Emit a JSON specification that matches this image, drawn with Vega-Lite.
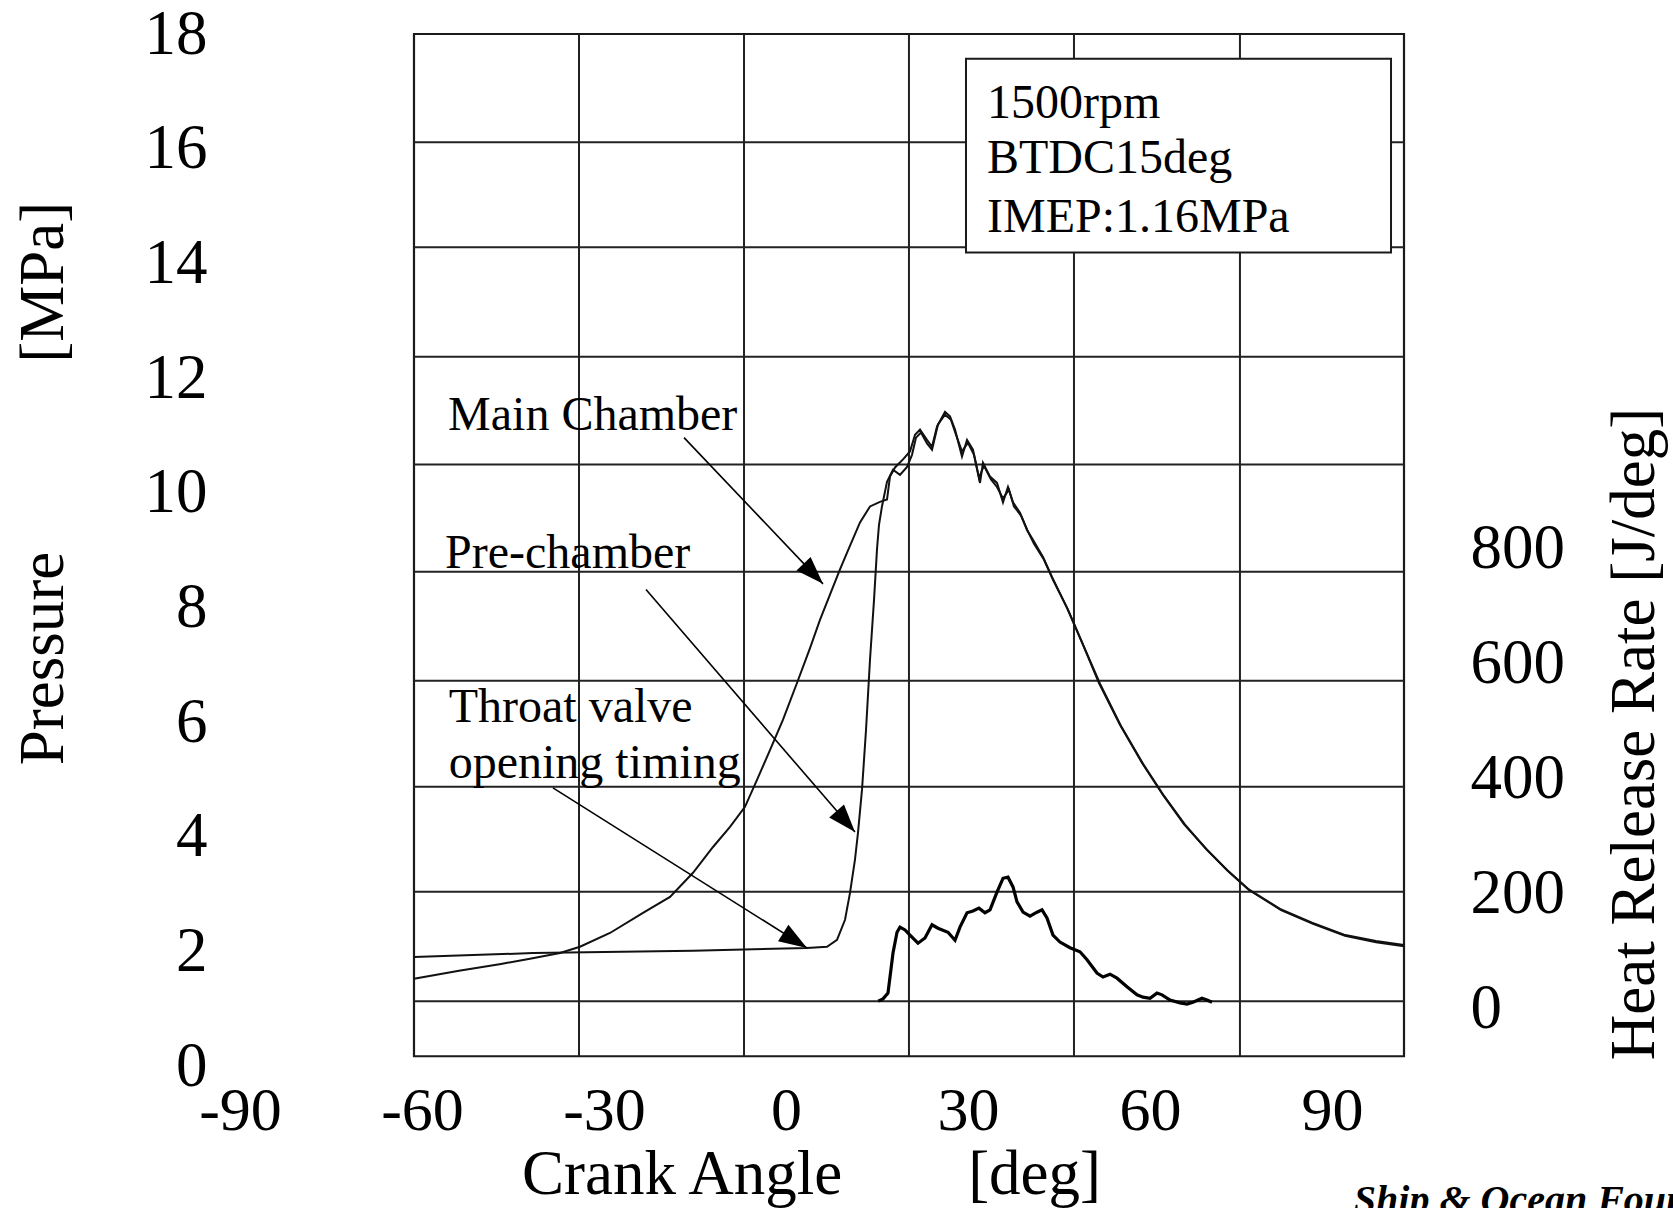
{
  "$schema": "https://vega.github.io/schema/vega-lite/v6.json",
  "autosize": {"type": "none"},
  "width": 1164,
  "height": 1032,
  "padding": {"left": 240, "top": 34, "right": 269, "bottom": 142},
  "background": "white",
  "config": {
    "view": {"stroke": null},
    "font": "Liberation Serif",
    "axis": {"labelFont": "Liberation Serif", "titleFont": "Liberation Serif", "labelColor": "black", "titleColor": "black", "titleFontWeight": "normal", "ticks": false, "domain": false, "grid": false, "labelFlush": false, "labelOverlap": false, "labelBound": false}
  },
  "datasets": {
    "grid": [
      {"x0": -34.12, "x1": -34.12, "y0": 0.17, "y1": 18},
      {"x0": -6.92, "x1": -6.92, "y0": 0.17, "y1": 18},
      {"x0": 20.27, "x1": 20.27, "y0": 0.17, "y1": 18},
      {"x0": 47.47, "x1": 47.47, "y0": 0.17, "y1": 18},
      {"x0": 74.83, "x1": 74.83, "y0": 0.17, "y1": 18},
      {"x0": -61.32, "x1": 101.87, "y0": 16.11, "y1": 16.11},
      {"x0": -61.32, "x1": 101.87, "y0": 14.28, "y1": 14.28},
      {"x0": -61.32, "x1": 101.87, "y0": 12.37, "y1": 12.37},
      {"x0": -61.32, "x1": 101.87, "y0": 10.49, "y1": 10.49},
      {"x0": -61.32, "x1": 101.87, "y0": 8.62, "y1": 8.62},
      {"x0": -61.32, "x1": 101.87, "y0": 6.72, "y1": 6.72},
      {"x0": -61.32, "x1": 101.87, "y0": 4.87, "y1": 4.87},
      {"x0": -61.32, "x1": 101.87, "y0": 3.04, "y1": 3.04},
      {"x0": -61.32, "x1": 101.87, "y0": 1.13, "y1": 1.13}
    ],
    "frame": [{"x0": -61.32, "x1": 101.87, "y0": 0.17, "y1": 18}],
    "box": [{"x0": 29.67, "x1": 99.73, "y0": 14.19, "y1": 17.57}],
    "boxtext": [
      {"t": "1500rpm", "deg": 33.13, "mpa": 16.54},
      {"t": "BTDC15deg", "deg": 33.13, "mpa": 15.58},
      {"t": "IMEP:1.16MPa", "deg": 33.13, "mpa": 14.55}
    ],
    "notes": [
      {"t": "Main Chamber", "deg": -55.7, "mpa": 11.10},
      {"t": "Pre-chamber", "deg": -56.2, "mpa": 8.69},
      {"t": "Throat valve", "deg": -55.6, "mpa": 6.00},
      {"t": "opening timing", "deg": -55.6, "mpa": 5.03}
    ],
    "arrows": [
      {"x0": -16.81, "y0": 10.96, "x1": 6.10, "y1": 8.41, "dir": 136},
      {"x0": -23.08, "y0": 8.31, "x1": 11.37, "y1": 4.08, "dir": 139},
      {"x0": -38.41, "y0": 4.85, "x1": 3.46, "y1": 2.06, "dir": 122}
    ],
    "credit": [{"t": "Ship & Ocean Foundation", "deg": 93.6, "mpa": -2.57}],
    "pressure": [
      {"s": "Main Chamber", "deg": -61.32, "mpa": 1.52},
      {"s": "Main Chamber", "deg": -53.90, "mpa": 1.66},
      {"s": "Main Chamber", "deg": -46.98, "mpa": 1.78},
      {"s": "Main Chamber", "deg": -42.20, "mpa": 1.87},
      {"s": "Main Chamber", "deg": -37.25, "mpa": 1.97},
      {"s": "Main Chamber", "deg": -33.96, "mpa": 2.08},
      {"s": "Main Chamber", "deg": -29.01, "mpa": 2.32},
      {"s": "Main Chamber", "deg": -23.57, "mpa": 2.67},
      {"s": "Main Chamber", "deg": -19.12, "mpa": 2.95},
      {"s": "Main Chamber", "deg": -15.33, "mpa": 3.37},
      {"s": "Main Chamber", "deg": -12.03, "mpa": 3.82},
      {"s": "Main Chamber", "deg": -9.23, "mpa": 4.17},
      {"s": "Main Chamber", "deg": -6.76, "mpa": 4.52},
      {"s": "Main Chamber", "deg": -4.78, "mpa": 4.99},
      {"s": "Main Chamber", "deg": -2.64, "mpa": 5.51},
      {"s": "Main Chamber", "deg": -0.49, "mpa": 6.04},
      {"s": "Main Chamber", "deg": 1.81, "mpa": 6.68},
      {"s": "Main Chamber", "deg": 3.96, "mpa": 7.29},
      {"s": "Main Chamber", "deg": 5.60, "mpa": 7.78},
      {"s": "Main Chamber", "deg": 7.25, "mpa": 8.22},
      {"s": "Main Chamber", "deg": 8.90, "mpa": 8.66},
      {"s": "Main Chamber", "deg": 10.05, "mpa": 8.95},
      {"s": "Main Chamber", "deg": 12.20, "mpa": 9.48},
      {"s": "Main Chamber", "deg": 13.85, "mpa": 9.76},
      {"s": "Main Chamber", "deg": 15.49, "mpa": 9.84},
      {"s": "Main Chamber", "deg": 16.65, "mpa": 9.88},
      {"s": "Main Chamber", "deg": 17.14, "mpa": 10.28},
      {"s": "Main Chamber", "deg": 17.97, "mpa": 10.44},
      {"s": "Main Chamber", "deg": 19.29, "mpa": 10.58},
      {"s": "Main Chamber", "deg": 20.44, "mpa": 10.72},
      {"s": "Main Chamber", "deg": 21.27, "mpa": 11.01},
      {"s": "Main Chamber", "deg": 22.09, "mpa": 11.10},
      {"s": "Main Chamber", "deg": 23.24, "mpa": 10.92},
      {"s": "Main Chamber", "deg": 24.07, "mpa": 10.80},
      {"s": "Main Chamber", "deg": 24.89, "mpa": 11.15},
      {"s": "Main Chamber", "deg": 26.21, "mpa": 11.41},
      {"s": "Main Chamber", "deg": 27.03, "mpa": 11.33},
      {"s": "Main Chamber", "deg": 27.86, "mpa": 11.10},
      {"s": "Main Chamber", "deg": 29.01, "mpa": 10.63},
      {"s": "Main Chamber", "deg": 29.84, "mpa": 10.92},
      {"s": "Main Chamber", "deg": 30.82, "mpa": 10.75},
      {"s": "Main Chamber", "deg": 31.98, "mpa": 10.17},
      {"s": "Main Chamber", "deg": 32.47, "mpa": 10.52},
      {"s": "Main Chamber", "deg": 33.63, "mpa": 10.28},
      {"s": "Main Chamber", "deg": 34.78, "mpa": 10.17},
      {"s": "Main Chamber", "deg": 35.77, "mpa": 9.83},
      {"s": "Main Chamber", "deg": 36.59, "mpa": 10.10},
      {"s": "Main Chamber", "deg": 37.42, "mpa": 9.83},
      {"s": "Main Chamber", "deg": 38.57, "mpa": 9.65},
      {"s": "Main Chamber", "deg": 39.73, "mpa": 9.35},
      {"s": "Main Chamber", "deg": 40.71, "mpa": 9.18},
      {"s": "Main Chamber", "deg": 42.36, "mpa": 8.88},
      {"s": "Main Chamber", "deg": 43.84, "mpa": 8.53},
      {"s": "Main Chamber", "deg": 46.32, "mpa": 7.99},
      {"s": "Main Chamber", "deg": 48.95, "mpa": 7.35},
      {"s": "Main Chamber", "deg": 51.59, "mpa": 6.68},
      {"s": "Main Chamber", "deg": 55.05, "mpa": 5.95},
      {"s": "Main Chamber", "deg": 58.68, "mpa": 5.29},
      {"s": "Main Chamber", "deg": 62.14, "mpa": 4.73},
      {"s": "Main Chamber", "deg": 65.60, "mpa": 4.22},
      {"s": "Main Chamber", "deg": 69.23, "mpa": 3.79},
      {"s": "Main Chamber", "deg": 72.69, "mpa": 3.42},
      {"s": "Main Chamber", "deg": 76.15, "mpa": 3.09},
      {"s": "Main Chamber", "deg": 81.43, "mpa": 2.74},
      {"s": "Main Chamber", "deg": 86.70, "mpa": 2.50},
      {"s": "Main Chamber", "deg": 91.98, "mpa": 2.29},
      {"s": "Main Chamber", "deg": 97.25, "mpa": 2.18},
      {"s": "Main Chamber", "deg": 101.87, "mpa": 2.11},
      {"s": "Pre-chamber", "deg": -61.32, "mpa": 1.90},
      {"s": "Pre-chamber", "deg": -41.70, "mpa": 1.97},
      {"s": "Pre-chamber", "deg": -15.33, "mpa": 2.01},
      {"s": "Pre-chamber", "deg": 3.46, "mpa": 2.06},
      {"s": "Pre-chamber", "deg": 6.76, "mpa": 2.08},
      {"s": "Pre-chamber", "deg": 8.41, "mpa": 2.20},
      {"s": "Pre-chamber", "deg": 9.73, "mpa": 2.55},
      {"s": "Pre-chamber", "deg": 10.55, "mpa": 3.02},
      {"s": "Pre-chamber", "deg": 11.37, "mpa": 3.60},
      {"s": "Pre-chamber", "deg": 11.87, "mpa": 4.07},
      {"s": "Pre-chamber", "deg": 12.53, "mpa": 4.82},
      {"s": "Pre-chamber", "deg": 13.19, "mpa": 5.86},
      {"s": "Pre-chamber", "deg": 13.85, "mpa": 7.09},
      {"s": "Pre-chamber", "deg": 14.51, "mpa": 8.13},
      {"s": "Pre-chamber", "deg": 15.00, "mpa": 9.01},
      {"s": "Pre-chamber", "deg": 15.33, "mpa": 9.44},
      {"s": "Pre-chamber", "deg": 15.82, "mpa": 9.76},
      {"s": "Pre-chamber", "deg": 16.65, "mpa": 10.19},
      {"s": "Pre-chamber", "deg": 17.64, "mpa": 10.40},
      {"s": "Pre-chamber", "deg": 18.79, "mpa": 10.31},
      {"s": "Pre-chamber", "deg": 19.95, "mpa": 10.45},
      {"s": "Pre-chamber", "deg": 20.77, "mpa": 10.66},
      {"s": "Pre-chamber", "deg": 21.43, "mpa": 10.96},
      {"s": "Pre-chamber", "deg": 22.25, "mpa": 11.05},
      {"s": "Pre-chamber", "deg": 23.24, "mpa": 10.86},
      {"s": "Pre-chamber", "deg": 24.07, "mpa": 10.75},
      {"s": "Pre-chamber", "deg": 25.05, "mpa": 11.19},
      {"s": "Pre-chamber", "deg": 26.21, "mpa": 11.36},
      {"s": "Pre-chamber", "deg": 27.20, "mpa": 11.27},
      {"s": "Pre-chamber", "deg": 28.02, "mpa": 11.01},
      {"s": "Pre-chamber", "deg": 29.01, "mpa": 10.72},
      {"s": "Pre-chamber", "deg": 30.00, "mpa": 10.87},
      {"s": "Pre-chamber", "deg": 30.99, "mpa": 10.66},
      {"s": "Pre-chamber", "deg": 31.81, "mpa": 10.26},
      {"s": "Pre-chamber", "deg": 32.63, "mpa": 10.47},
      {"s": "Pre-chamber", "deg": 33.79, "mpa": 10.23},
      {"s": "Pre-chamber", "deg": 34.78, "mpa": 10.10},
      {"s": "Pre-chamber", "deg": 35.77, "mpa": 9.90},
      {"s": "Pre-chamber", "deg": 36.76, "mpa": 10.05},
      {"s": "Pre-chamber", "deg": 37.58, "mpa": 9.76},
      {"s": "Pre-chamber", "deg": 38.74, "mpa": 9.60},
      {"s": "Pre-chamber", "deg": 39.89, "mpa": 9.32},
      {"s": "Pre-chamber", "deg": 40.88, "mpa": 9.11},
      {"s": "Pre-chamber", "deg": 42.53, "mpa": 8.83},
      {"s": "Pre-chamber", "deg": 44.01, "mpa": 8.48},
      {"s": "Pre-chamber", "deg": 46.48, "mpa": 7.96},
      {"s": "Pre-chamber", "deg": 49.12, "mpa": 7.31},
      {"s": "Pre-chamber", "deg": 51.76, "mpa": 6.67},
      {"s": "Pre-chamber", "deg": 55.22, "mpa": 5.93},
      {"s": "Pre-chamber", "deg": 58.85, "mpa": 5.27},
      {"s": "Pre-chamber", "deg": 62.31, "mpa": 4.71},
      {"s": "Pre-chamber", "deg": 65.77, "mpa": 4.21},
      {"s": "Pre-chamber", "deg": 69.40, "mpa": 3.77},
      {"s": "Pre-chamber", "deg": 72.86, "mpa": 3.40},
      {"s": "Pre-chamber", "deg": 76.32, "mpa": 3.07},
      {"s": "Pre-chamber", "deg": 81.60, "mpa": 2.72},
      {"s": "Pre-chamber", "deg": 86.87, "mpa": 2.48},
      {"s": "Pre-chamber", "deg": 92.14, "mpa": 2.27},
      {"s": "Pre-chamber", "deg": 97.25, "mpa": 2.16},
      {"s": "Pre-chamber", "deg": 101.87, "mpa": 2.09}
    ],
    "hrr": [
      {"deg": 15.2, "hrr": 12}, {"deg": 15.99, "hrr": 16}, {"deg": 16.81, "hrr": 26},
      {"deg": 17.64, "hrr": 96}, {"deg": 18.30, "hrr": 132}, {"deg": 18.79, "hrr": 141},
      {"deg": 19.62, "hrr": 136}, {"deg": 20.44, "hrr": 127}, {"deg": 21.76, "hrr": 113},
      {"deg": 22.91, "hrr": 122}, {"deg": 24.07, "hrr": 145}, {"deg": 25.05, "hrr": 139},
      {"deg": 26.70, "hrr": 132}, {"deg": 27.86, "hrr": 118}, {"deg": 28.68, "hrr": 141},
      {"deg": 29.84, "hrr": 166}, {"deg": 30.82, "hrr": 169}, {"deg": 31.81, "hrr": 174},
      {"deg": 32.80, "hrr": 166}, {"deg": 33.63, "hrr": 171}, {"deg": 34.78, "hrr": 202},
      {"deg": 35.77, "hrr": 226}, {"deg": 36.59, "hrr": 228}, {"deg": 37.42, "hrr": 211},
      {"deg": 38.08, "hrr": 185}, {"deg": 39.07, "hrr": 167}, {"deg": 40.22, "hrr": 160},
      {"deg": 41.37, "hrr": 167}, {"deg": 42.20, "hrr": 171}, {"deg": 43.02, "hrr": 157},
      {"deg": 44.01, "hrr": 127}, {"deg": 45.16, "hrr": 115}, {"deg": 46.81, "hrr": 105},
      {"deg": 48.46, "hrr": 98}, {"deg": 49.62, "hrr": 84}, {"deg": 51.26, "hrr": 61},
      {"deg": 52.25, "hrr": 54}, {"deg": 53.41, "hrr": 59}, {"deg": 54.56, "hrr": 52},
      {"deg": 56.21, "hrr": 37}, {"deg": 57.86, "hrr": 23}, {"deg": 58.85, "hrr": 19},
      {"deg": 60.00, "hrr": 17}, {"deg": 61.15, "hrr": 26}, {"deg": 61.98, "hrr": 23},
      {"deg": 63.30, "hrr": 14}, {"deg": 64.95, "hrr": 9}, {"deg": 66.10, "hrr": 7},
      {"deg": 67.09, "hrr": 10}, {"deg": 68.57, "hrr": 17}, {"deg": 69.40, "hrr": 14},
      {"deg": 70.22, "hrr": 10}
    ]
  },
  "layer": [
    {
      "layer": [
        {
          "data": {"name": "frame"},
          "mark": {"type": "rect", "fill": "white", "fillOpacity": 0, "stroke": "#1a1a1a", "strokeWidth": 2.2},
          "encoding": {
            "x": {"field": "x0", "type": "quantitative", "scale": {"domain": [-90, 101.87], "nice": false, "zero": false},
              "axis": {"values": [-90, -60, -30, 0, 30, 60, 90], "labelExpr": "'' + datum.value", "labelFontSize": 62, "labelPadding": 44, "labelBaseline": "middle",
                "title": "Crank Angle\u00a0\u00a0\u00a0\u00a0\u00a0\u00a0\u00a0\u00a0[deg]", "titleFontSize": 63, "titleX": 571, "titleY": 127, "titleBaseline": "alphabetic", "titleAlign": "center"}},
            "x2": {"field": "x1"},
            "y": {"field": "y0", "type": "quantitative", "scale": {"domain": [0, 18], "nice": false, "zero": false},
              "axis": {"values": [0, 2, 4, 6, 8, 10, 12, 14, 16, 18], "labelExpr": "'' + datum.value", "labelFontSize": 63, "labelPadding": 33, "labelAlign": "right", "labelBaseline": "middle",
                "title": "Pressure\u00a0\u00a0\u00a0\u00a0\u00a0\u00a0\u00a0\u00a0\u00a0\u00a0\u00a0\u00a0[MPa]", "titleFontSize": 63, "titleAngle": 270, "titleX": -178, "titleY": 449, "titleBaseline": "alphabetic", "titleAlign": "center"}},
            "y2": {"field": "y1"}
          }
        },
        {
          "data": {"name": "grid"},
          "mark": {"type": "rule", "color": "#222222", "strokeWidth": 2},
          "encoding": {
            "x": {"field": "x0", "type": "quantitative", "scale": {"domain": [-90, 101.87], "nice": false, "zero": false}},
            "x2": {"field": "x1"},
            "y": {"field": "y0", "type": "quantitative", "scale": {"domain": [0, 18], "nice": false, "zero": false}},
            "y2": {"field": "y1"}
          }
        },
        {
          "data": {"name": "box"},
          "mark": {"type": "rect", "fill": "white", "stroke": "#1a1a1a", "strokeWidth": 2},
          "encoding": {
            "x": {"field": "x0", "type": "quantitative", "scale": {"domain": [-90, 101.87], "nice": false, "zero": false}},
            "x2": {"field": "x1"},
            "y": {"field": "y0", "type": "quantitative", "scale": {"domain": [0, 18], "nice": false, "zero": false}},
            "y2": {"field": "y1"}
          }
        },
        {
          "data": {"name": "boxtext"},
          "mark": {"type": "text", "align": "left", "baseline": "alphabetic", "fontSize": 48, "font": "Liberation Serif", "color": "black"},
          "encoding": {
            "x": {"field": "deg", "type": "quantitative", "scale": {"domain": [-90, 101.87], "nice": false, "zero": false}},
            "y": {"field": "mpa", "type": "quantitative", "scale": {"domain": [0, 18], "nice": false, "zero": false}},
            "text": {"field": "t"}
          }
        },
        {
          "data": {"name": "pressure"},
          "mark": {"type": "line", "color": "#111111", "strokeWidth": 2, "interpolate": "linear"},
          "encoding": {
            "x": {"field": "deg", "type": "quantitative", "scale": {"domain": [-90, 101.87], "nice": false, "zero": false}},
            "y": {"field": "mpa", "type": "quantitative", "scale": {"domain": [0, 18], "nice": false, "zero": false}},
            "detail": {"field": "s"}
          }
        },
        {
          "data": {"name": "notes"},
          "mark": {"type": "text", "align": "left", "baseline": "alphabetic", "fontSize": 48, "font": "Liberation Serif", "color": "black"},
          "encoding": {
            "x": {"field": "deg", "type": "quantitative", "scale": {"domain": [-90, 101.87], "nice": false, "zero": false}},
            "y": {"field": "mpa", "type": "quantitative", "scale": {"domain": [0, 18], "nice": false, "zero": false}},
            "text": {"field": "t"}
          }
        },
        {
          "data": {"name": "arrows"},
          "mark": {"type": "rule", "color": "black", "strokeWidth": 1.6},
          "encoding": {
            "x": {"field": "x0", "type": "quantitative", "scale": {"domain": [-90, 101.87], "nice": false, "zero": false}},
            "x2": {"field": "x1"},
            "y": {"field": "y0", "type": "quantitative", "scale": {"domain": [0, 18], "nice": false, "zero": false}},
            "y2": {"field": "y1"}
          }
        },
        {
          "data": {"name": "arrows"},
          "mark": {"type": "point", "shape": "M0,0L-0.7,2L0.7,2Z", "filled": true, "color": "black", "size": 784, "opacity": 1, "strokeWidth": 0},
          "encoding": {
            "x": {"field": "x1", "type": "quantitative", "scale": {"domain": [-90, 101.87], "nice": false, "zero": false}},
            "y": {"field": "y1", "type": "quantitative", "scale": {"domain": [0, 18], "nice": false, "zero": false}},
            "angle": {"field": "dir", "type": "quantitative", "scale": null}
          }
        },
        {
          "data": {"name": "credit"},
          "mark": {"type": "text", "align": "left", "baseline": "alphabetic", "fontSize": 40, "font": "Liberation Serif", "fontWeight": "bold", "fontStyle": "italic", "color": "black"},
          "encoding": {
            "x": {"field": "deg", "type": "quantitative", "scale": {"domain": [-90, 101.87], "nice": false, "zero": false}},
            "y": {"field": "mpa", "type": "quantitative", "scale": {"domain": [0, 18], "nice": false, "zero": false}},
            "text": {"field": "t"}
          }
        }
      ]
    },
    {
      "data": {"name": "hrr"},
      "mark": {"type": "line", "color": "black", "strokeWidth": 3.2},
      "encoding": {
        "x": {"field": "deg", "type": "quantitative", "scale": {"domain": [-90, 101.87], "nice": false, "zero": false}},
        "y": {"field": "hrr", "type": "quantitative", "scale": {"domain": [-101, 1697], "nice": false, "zero": false},
          "axis": {"orient": "right", "values": [0, 200, 400, 600, 800], "labelExpr": "'' + datum.value", "labelFontSize": 63, "labelPadding": 66, "labelAlign": "left", "labelBaseline": "middle",
            "title": "Heat Release Rate [J/deg]", "titleFontSize": 63, "titleAngle": 270, "titleX": 249, "titleY": 699.5, "titleBaseline": "alphabetic", "titleAlign": "center"}}
      }
    }
  ],
  "resolve": {"scale": {"y": "independent"}}
}
